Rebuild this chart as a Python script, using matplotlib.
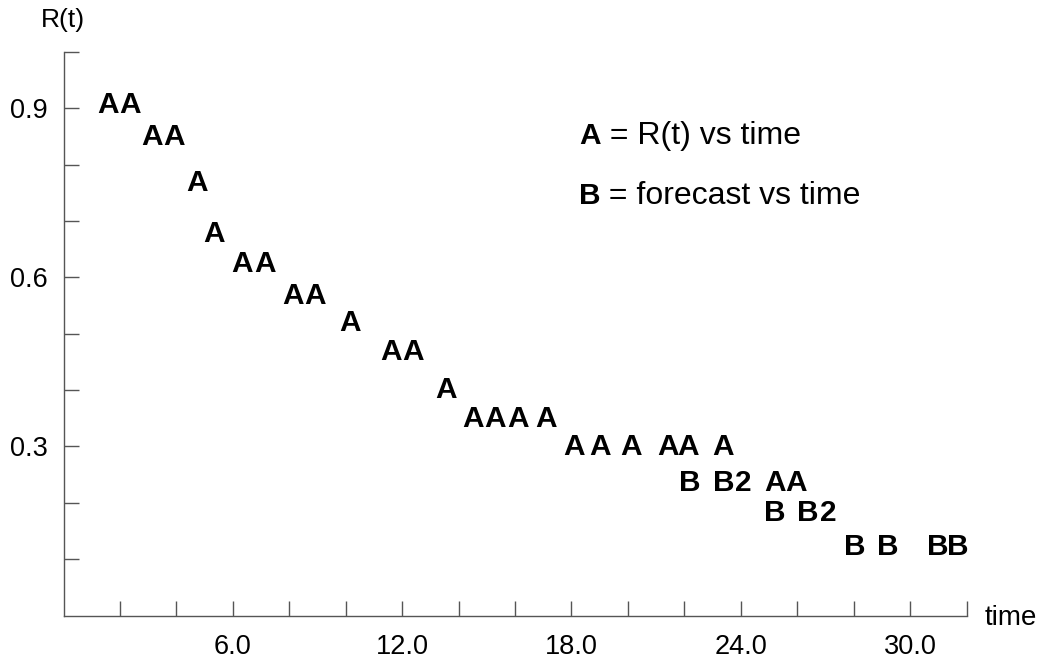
import matplotlib
matplotlib.use("Agg")
import matplotlib.pyplot as plt
from matplotlib.transforms import offset_copy

# ---- data ----
a_time = [1.58, 2.36, 3.15, 3.92, 4.73, 5.33, 6.34, 7.14, 8.15, 8.93, 10.14,
          11.61, 12.37, 13.55, 14.52, 15.31, 16.12, 17.09, 18.08, 19.02, 20.13,
          21.41, 22.14, 23.38, 25.23, 25.97]
a_R = [0.910, 0.910, 0.854, 0.854, 0.772, 0.682, 0.629, 0.629, 0.572, 0.572,
       0.523, 0.472, 0.472, 0.405, 0.353, 0.353, 0.353, 0.353, 0.303, 0.303,
       0.303, 0.303, 0.303, 0.303, 0.240, 0.240]

b_time = [22.20, 23.38, 25.21, 26.36, 28.03, 29.21, 30.98, 31.70]
b_R = [0.240, 0.240, 0.187, 0.187, 0.127, 0.127, 0.127, 0.127]

# coincident points (plotted as "2")
dup_time = [24.09, 27.12]
dup_R = [0.240, 0.187]

x_ticks = [2, 4, 6, 8, 10, 12, 14, 16, 18, 20, 22, 24, 26, 28, 30, 32]
x_labeled = [6, 12, 18, 24, 30]
y_ticks = [0.1, 0.2, 0.3, 0.4, 0.5, 0.6, 0.7, 0.8, 0.9, 1.0]
y_labeled = [0.3, 0.6, 0.9]

FONT = "Liberation Sans"
W, H = 1045, 663
fig = plt.figure(figsize=(W / 100, H / 100), dpi=100)
ax = fig.add_axes([63.5 / W, 47.5 / H, 903 / W, 563.5 / H])
ax.set_xlim(0, 32)
ax.set_ylim(0, 1.0)

spine_col = "#555555"
for s in ["top", "right"]:
    ax.spines[s].set_visible(False)
for s in ["left", "bottom"]:
    ax.spines[s].set_color(spine_col)
    ax.spines[s].set_linewidth(1.0)

ax.set_xticks(x_ticks)
ax.set_xticklabels([f"{t:.1f}" if t in x_labeled else "" for t in x_ticks])
ax.set_yticks(y_ticks)
ax.set_yticklabels([f"{t:.1f}" if any(abs(t - v) < 1e-9 for v in y_labeled) else "" for t in y_ticks])
ax.tick_params(axis="both", direction="in", length=11, width=1.0, color=spine_col,
               labelsize=19.5, labelcolor="black")
ax.tick_params(axis="y", pad=11.5)
ax.tick_params(axis="x", pad=13.5)
for lab in ax.get_xticklabels() + ax.get_yticklabels():
    lab.set_fontfamily(FONT)

LS = 21.5
cap_off = -0.716 * LS / 2
tr = offset_copy(ax.transData, fig=fig, y=cap_off, units="points")

def put(xs, ys, ch):
    for x, y in zip(xs, ys):
        ax.text(x, y, ch, transform=tr, ha="center", va="baseline",
                fontsize=LS, fontweight="bold", family=FONT, clip_on=False)

put(a_time, a_R, "A")
put(b_time, b_R, "B")
put(dup_time, dup_R, "2")

# legend text
fig.canvas.draw()
renderer = fig.canvas.get_renderer()

def legend_row(xpix, ybase_pix, key, desc):
    yf = (H - ybase_pix) / H
    t = fig.text(xpix / W, yf, key, fontsize=LS, fontweight="bold",
                 family=FONT, ha="left", va="baseline")
    bb = t.get_window_extent(renderer=renderer)
    fig.text(bb.x1 / W, yf, desc, fontsize=23, family=FONT,
             ha="left", va="baseline")

legend_row(579, 144, "A", " = R(t) vs time")
legend_row(579, 204, "B", " = forecast vs time")

fig.text(63 / W, (H - 20) / H, "R(t)", fontsize=19, family=FONT, ha="center", va="center")
fig.text(1011 / W, (H - 625) / H, "time", fontsize=20, family=FONT, ha="center", va="baseline")

fig.savefig("out.png", dpi=100)
